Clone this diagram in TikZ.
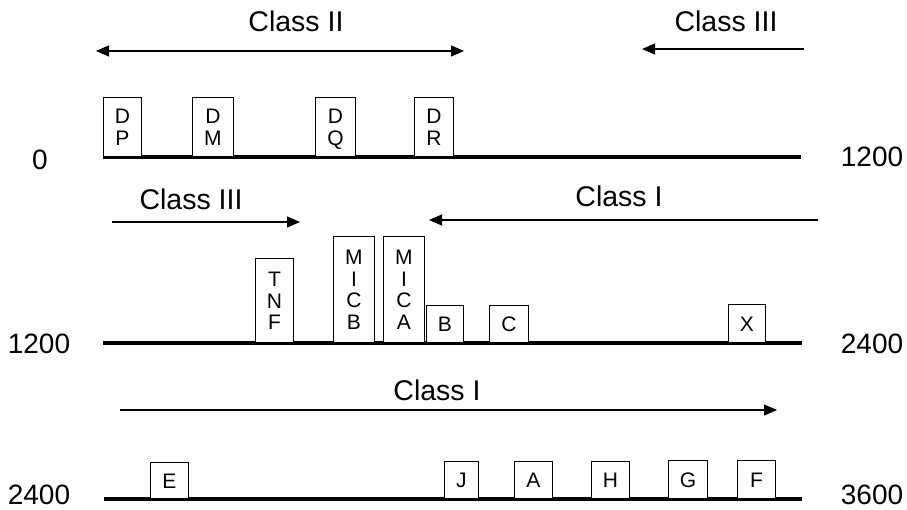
\documentclass[tikz,border=0pt]{standalone}
\usepackage{fontspec}
\setmainfont{Liberation Sans}
\usetikzlibrary{arrows.meta}
% stacked gene label: letters one above the other, bottom aligned on the last baseline
\newcommand{\genefont}{\fontsize{21}{21.5}\selectfont}
\newcommand{\glabel}[1]{{\genefont\begin{tabular}[b]{@{}c@{}}#1\end{tabular}}}
\begin{document}
\begin{tikzpicture}[x=1pt,y=-1pt,
  track/.style={line width=4pt},
  gene/.style={draw,line width=0.9pt,fill=white,inner sep=0pt,anchor=south west,
    text depth=0pt},
  span/.style={line width=1.1pt,-{Triangle[length=13pt,width=11pt]}},
  bispan/.style={line width=1.1pt,{Triangle[length=13pt,width=11pt]}-{Triangle[length=13pt,width=11pt]}},
  classlbl/.style={anchor=base,inner sep=1pt,font=\fontsize{28.5}{31}\selectfont},
  poslbl/.style={anchor=base,inner sep=1pt,font=\fontsize{28}{31}\selectfont}]
\useasboundingbox[fill=white] (0,0) rectangle (907,510);

% ---- segment 0 - 1200 ----
\coordinate (t1a) at (103,157);
\coordinate (t1b) at (801,157);
\draw[track] (t1a) -- (t1b);
\node[gene,minimum width=38,minimum height=59] (dp) at (103,157) {\glabel{D\\P}};
\node[gene,minimum width=41,minimum height=59] (dm) at (192,157) {\glabel{D\\M}};
\node[gene,minimum width=40,minimum height=59] (dq) at (315,157) {\glabel{D\\Q}};
\node[gene,minimum width=39,minimum height=59] (dr) at (414,157) {\glabel{D\\R}};
\node[poslbl] (p0) at (40,170) {0};
\node[poslbl] (p1200a) at (872,167) {1200};

\coordinate (c2a) at (96,51);
\coordinate (c2b) at (464,51);
\draw[bispan] (c2a) -- (c2b);
\node[classlbl] (cl2) at (296,32) {Class II};
\coordinate (c3a) at (804,49);
\coordinate (c3b) at (642,49);
\draw[span] (c3a) -- (c3b);
\node[classlbl] (cl3a) at (726,32) {Class III};

% ---- segment 1200 - 2400 ----
\coordinate (t2a) at (103,343);
\coordinate (t2b) at (802,343);
\draw[track] (t2a) -- (t2b);
\node[gene,minimum width=38,minimum height=84] (tnf) at (255,343) {\glabel{T\\N\\F}};
\node[gene,minimum width=41,minimum height=106] (micb) at (333,343) {\glabel{M\\I\\C\\B}};
\node[gene,minimum width=41,minimum height=106] (mica) at (383,343) {\glabel{M\\I\\C\\A}};
\node[gene,minimum width=37,minimum height=37] (b) at (426,343) {\glabel{B}};
\node[gene,minimum width=39,minimum height=37] (c) at (489,343) {\glabel{C}};
\node[gene,minimum width=37,minimum height=38] (x) at (728,343) {\glabel{X}};
\node[poslbl] (p1200b) at (39,353) {1200};
\node[poslbl] (p2400a) at (872,353) {2400};

\coordinate (c3c) at (112,222);
\coordinate (c3d) at (300,222);
\draw[span] (c3c) -- (c3d);
\node[classlbl] (cl3b) at (191,210) {Class III};
\coordinate (c1a) at (818,220);
\coordinate (c1b) at (429,220);
\draw[span] (c1a) -- (c1b);
\node[classlbl] (cl1a) at (619,207) {Class I};

% ---- segment 2400 - 3600 ----
\coordinate (t3a) at (104,499);
\coordinate (t3b) at (802,499);
\draw[track] (t3a) -- (t3b);
\node[gene,minimum width=38,minimum height=36] (e) at (150,499) {\glabel{E}};
\node[gene,minimum width=34,minimum height=37] (j) at (444,499) {\glabel{J}};
\node[gene,minimum width=38,minimum height=37] (a) at (514,499) {\glabel{A}};
\node[gene,minimum width=38,minimum height=37] (h) at (591,499) {\glabel{H}};
\node[gene,minimum width=39,minimum height=38] (g) at (668,499) {\glabel{G}};
\node[gene,minimum width=38,minimum height=38] (f) at (737,499) {\glabel{F}};
\node[poslbl] (p2400b) at (39,504) {2400};
\node[poslbl] (p3600) at (872,504) {3600};

\coordinate (c1c) at (120,410);
\coordinate (c1d) at (777,410);
\draw[span] (c1c) -- (c1d);
\node[classlbl] (cl1b) at (437,400) {Class I};
\end{tikzpicture}
\end{document}
